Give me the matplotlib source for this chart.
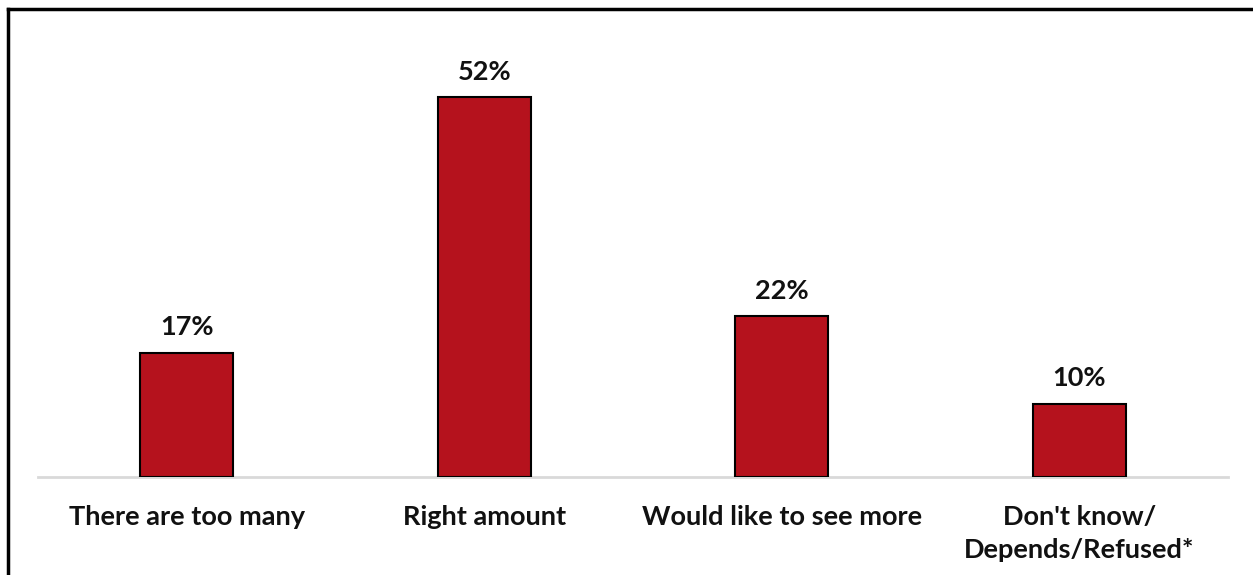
import matplotlib
matplotlib.use("Agg")
import matplotlib.pyplot as plt
from matplotlib.lines import Line2D

categories = ["There are too many", "Right amount", "Would like to see more", "Don't know/\nDepends/Refused*"]
values = [17, 52, 22, 10]
value_labels = ["17%", "52%", "22%", "10%"]

W, H = 1253, 575
fig = plt.figure(figsize=(W / 100, H / 100), dpi=100)
fig.patch.set_facecolor("white")

ax = fig.add_axes([38 / W, (H - 477) / H, (1228 - 38) / W, (477 - 39) / H])
x = list(range(len(categories)))
bars = ax.bar(x, values, width=0.313, color="#B5121D", edgecolor="black", linewidth=1.5, zorder=3)
ax.set_xlim(-0.5, 3.5)
ax.set_ylim(0, 60)
for s in ["top", "right", "left"]:
    ax.spines[s].set_visible(False)
ax.spines["bottom"].set_color("#D9D9D9")
ax.spines["bottom"].set_linewidth(2)
ax.set_yticks([])
ax.set_xticks(x)
ax.set_xticklabels(categories, fontfamily="Lato", fontweight="bold", fontsize=19.5, color="#111111", linespacing=1.45, va="top")
ax.tick_params(axis="x", length=0, pad=20)

for xi, v, lab in zip(x, values, value_labels):
    ax.annotate(lab, (xi, v), xytext=(0, 10), textcoords="offset points", ha="center", va="bottom",
                fontfamily="Lato", fontweight="bold", fontsize=19.5, color="#111111")

# outer frame (partially visible)
fig.add_artist(Line2D([8 / W, 8 / W], [0, (H - 9) / H], color="black", lw=2.5, transform=fig.transFigure))
fig.add_artist(Line2D([8 / W, 1], [(H - 9) / H, (H - 9) / H], color="black", lw=2.5, transform=fig.transFigure))

fig.savefig("out.png", dpi=100, facecolor="white")
